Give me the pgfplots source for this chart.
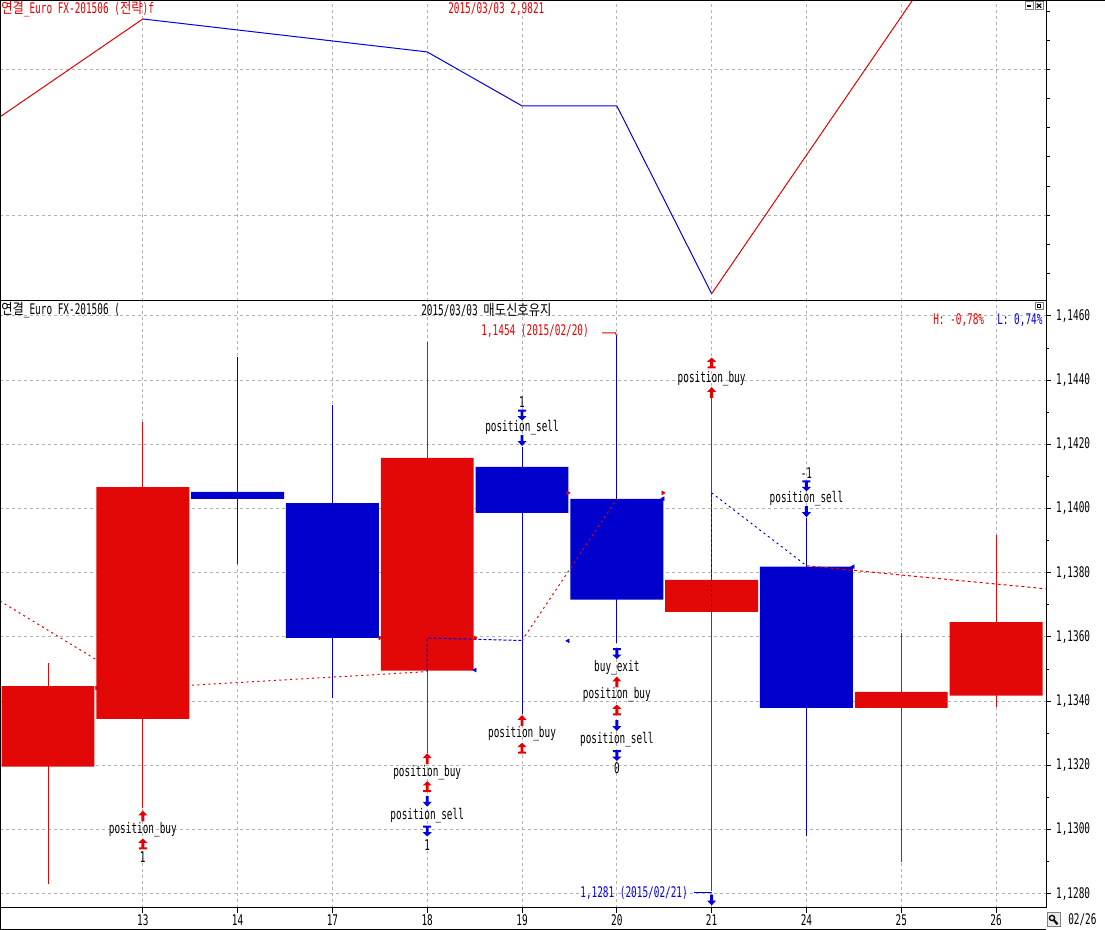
\documentclass[border=0pt]{standalone}
\usepackage{fontspec}
\setmainfont{DejaVu Sans Mono}[FakeStretch=0.64]
\newfontfamily\kr{Noto Sans CJK KR}[FakeStretch=0.84]
\usepackage{pgfplots}
\pgfplotsset{compat=1.18}
\definecolor{cred}{RGB}{226,8,8}
\definecolor{cblue}{RGB}{0,0,205}
\definecolor{lred}{RGB}{230,0,0}
\definecolor{lblue}{RGB}{0,0,225}
\definecolor{gridc}{RGB}{178,178,178}
\definecolor{btn}{RGB}{128,128,128}
\tikzset{
 uarr/.pic={\fill (0pt,4.1pt) -- (3.4pt,0.4pt) -- (1.1pt,0.4pt) -- (1.1pt,-4.1pt) -- (-1.1pt,-4.1pt) -- (-1.1pt,0.4pt) -- (-3.4pt,0.4pt) -- cycle;},
 uarrb/.pic={\fill (0pt,4.1pt) -- (3.4pt,0.9pt) -- (1.1pt,0.9pt) -- (1.1pt,-2.6pt) -- (3pt,-2.6pt) -- (3pt,-4.1pt) -- (-3pt,-4.1pt) -- (-3pt,-2.6pt) -- (-1.1pt,-2.6pt) -- (-1.1pt,0.9pt) -- (-3.4pt,0.9pt) -- cycle;},
}
% i, left, right, body low, body high, low, high, colour
\newcommand\candle[8]{%
 \addplot[#8, line width=0.75pt, forget plot] coordinates {(#1,#6) (#1,#7)};
 \addplot[fill=#8, draw=none, forget plot] coordinates {(#2,#4) (#3,#4) (#3,#5) (#2,#5) (#2,#4)};
}
\newcommand\UA[3]{\path (axis cs:#1,#2) pic[#3] {uarr};}
\newcommand\UAB[3]{\path (axis cs:#1,#2) pic[#3] {uarrb};}
\newcommand\DA[3]{\path (axis cs:#1,#2) pic[#3,rotate=180] {uarr};}
\newcommand\DAB[3]{\path (axis cs:#1,#2) pic[#3,rotate=180] {uarrb};}
\newcommand\TX[3]{\node[inner sep=0pt] at (axis cs:#1,#2) {#3};}
\begin{document}
\fontsize{11}{13}\selectfont
\begin{tikzpicture}[x=0.75pt,y=0.75pt,font=\fontsize{11}{13}\selectfont]
\fill[white] (0,0) rectangle (1105,930);
\path[use as bounding box] (0,0) rectangle (1105,930);

% ---------------- top panel ----------------
\begin{axis}[
 at={(0pt,471.75pt)}, anchor=south west,
 scale only axis, width=784.5pt, height=225.75pt,
 xmin=-0.5063, xmax=10.527, ymin=-2.955, ymax=7.399,
 axis line style={line width=0.75pt},
 xtick={1,...,10}, xticklabels={}, xmajorgrids=true,
 xtick style={draw=none},
 ytick={-2,...,7}, yticklabels={}, ytick pos=right,
 ytick style={black, line width=0.75pt},
 tick align=outside, major tick length=3pt,
 extra y ticks={0,5}, extra y tick labels={}, extra y tick style={grid=major},
 grid style={gridc, line width=0.75pt, dash pattern=on 2.25pt off 2.25pt},
]
\addplot[lred, line width=0.75pt] coordinates {(-0.5063,3.378) (1,6.746)};
\addplot[lblue, line width=0.75pt] coordinates {(1,6.746) (4,5.612) (5,3.756) (6,3.756) (7,-2.704)};
\addplot[lred, line width=0.75pt] coordinates {(7,-2.704) (10,11.59)};
\end{axis}

% ---------------- bottom panel ----------------
\begin{axis}[
 at={(0pt,16.5pt)}, anchor=south west,
 scale only axis, width=784.5pt, height=455.25pt,
 xmin=-0.5063, xmax=10.527, ymin=1.127557, ymax=1.146467,
 axis line style={line width=0.75pt},
 xtick={1,...,10}, xticklabels={13,14,17,18,19,20,21,24,25,26},
 xtick pos=bottom, ytick pos=right, yticklabel pos=right,
 ytick={1.128,1.130,1.132,1.134,1.136,1.138,1.140,1.142,1.144,1.146},
 minor ytick={1.129,1.131,1.133,1.135,1.137,1.139,1.141,1.143,1.145},
 tick align=outside, major tick length=3.75pt, minor tick length=2.25pt,
 tick style={black, line width=0.75pt},
 xmajorgrids=true, ymajorgrids=true,
 grid style={gridc, line width=0.75pt, dash pattern=on 2.25pt off 2.25pt},
 scaled y ticks=false,
 tick label style={font=\fontsize{11}{13}\selectfont},
 xticklabel style={yshift=2.6pt},
 /pgf/number format/fixed, /pgf/number format/fixed zerofill,
 /pgf/number format/precision=4, /pgf/number format/use comma,
 /pgf/number format/assume math mode=true,
]
\candle{0}{-0.49}{0.49}{1.13196}{1.13447}{1.12831}{1.13520}{cred}
\candle{1}{0.51}{1.49}{1.13345}{1.14067}{1.13067}{1.14270}{cred}
\candle{2}{1.51}{2.49}{1.14030}{1.14052}{1.13827}{1.14472}{cblue}
\candle{3}{2.51}{3.49}{1.13597}{1.14017}{1.13410}{1.14323}{cblue}
\candle{4}{3.51}{4.49}{1.13495}{1.14158}{1.13239}{1.14519}{cred}
\candle{5}{4.51}{5.49}{1.13987}{1.14130}{1.13360}{1.14193}{cblue}
\candle{6}{5.51}{6.49}{1.13716}{1.14030}{1.13581}{1.14540}{cblue}
\candle{7}{6.51}{7.49}{1.13678}{1.13778}{1.12810}{1.14345}{cred}
\candle{8}{7.51}{8.49}{1.13379}{1.13819}{1.12980}{1.13971}{cblue}
\candle{9}{8.51}{9.49}{1.13379}{1.13429}{1.12899}{1.13612}{cred}
\candle{10}{9.51}{10.49}{1.13417}{1.13646}{1.13381}{1.13918}{cred}
% trailing lines
\addplot[lred, line width=0.75pt, dash pattern=on 1.5pt off 2.6pt, forget plot] coordinates {(-0.5063,1.13712) (1,1.13441)};
\addplot[lred, line width=0.75pt, dash pattern=on 1.5pt off 2.6pt, forget plot] coordinates {(1,1.13441) (4,1.13492)};
\addplot[lblue, line width=0.75pt, dash pattern=on 2.25pt off 1.5pt, forget plot] coordinates {(4,1.13492) (4,1.13597) (5,1.13589)};
\addplot[lred, line width=0.75pt, dash pattern=on 1.5pt off 2.6pt, forget plot] coordinates {(5,1.13589) (6,1.14030)};
\addplot[lblue, line width=0.75pt, dash pattern=on 2.25pt off 1.5pt, forget plot] coordinates {(7,1.13678) (7,1.14049)};
\addplot[lblue, line width=0.75pt, dash pattern=on 1.5pt off 2.6pt, forget plot] coordinates {(7,1.14049) (8,1.13822)};
\addplot[lred, line width=0.75pt, dash pattern=on 2.25pt off 2.25pt, forget plot] coordinates {(8,1.13822) (9,1.13793) (10,1.13765) (10.527,1.13750)};
% small entry markers
\addplot[only marks, mark=triangle*, mark size=1.6pt, lred, mark options={rotate=-90}, forget plot] coordinates {(0.514,1.13441) (3.502,1.13597) (4.504,1.13597) (5.485,1.14049) (6.487,1.14049)};
\addplot[only marks, mark=triangle*, mark size=1.6pt, lblue, mark options={rotate=90}, forget plot] coordinates {(4.504,1.13497) (5.485,1.13588) (6.487,1.14031) (8.492,1.13819)};
% signal annotations
\UA{1}{1.130424}{lred}
\TX{1}{1.129988}{position\_buy}
\UAB{1}{1.129551}{lred}
\TX{1}{1.129146}{1}
\UA{4}{1.132209}{lred}
\TX{4}{1.131785}{position\_buy}
\UAB{4}{1.131336}{lred}
\DA{4}{1.130882}{lblue}
\TX{4}{1.130424}{position\_sell}
\DAB{4}{1.129956}{lblue}
\TX{4}{1.12952}{1}
\TX{5}{1.14333}{1}
\DAB{5}{1.142916}{lblue}
\TX{5}{1.142533}{position\_sell}
\DA{5}{1.142121}{lblue}
\UA{5}{1.133399}{lred}
\TX{5}{1.133000}{position\_buy}
\UAB{5}{1.132533}{lred}
\DAB{6}{1.135486}{lblue}
\TX{6}{1.135056}{buy\_exit}
\UA{6}{1.134598}{lred}
\TX{6}{1.134193}{position\_buy}
\UAB{6}{1.133726}{lred}
\DA{6}{1.133243}{lblue}
\TX{6}{1.132813}{position\_sell}
\DAB{6}{1.132308}{lblue}
\TX{6}{1.13191}{0}
\UAB{7}{1.144536}{lred}
\TX{7}{1.144059}{position\_buy}
\UA{7}{1.143617}{lred}
\TX{8}{1.141118}{-1}
\DAB{8}{1.14071}{lblue}
\TX{8}{1.140299}{position\_sell}
\DA{8}{1.139903}{lblue}
% high / low labels
\node[anchor=east, text=lred, inner sep=0pt] at (axis cs:5.707,1.145533) {1,1454 (2015/02/20)};
\draw[lred, line width=0.75pt] (axis cs:5.844,1.14547) -- (axis cs:5.985,1.14547) -- (axis cs:6,1.14538);
\node[anchor=east, text=lblue, inner sep=0pt] at (axis cs:6.751,1.128025) {1,1281 (2015/02/21)};
\draw[lblue, line width=0.75pt] (axis cs:6.814,1.128025) -- (axis cs:7,1.128025);
\DA{7}{1.127807}{lblue}
\end{axis}

% ---------------- frame, titles, buttons ----------------
\draw[black, line width=0.75pt] (0,929.6) -- (1105,929.6);
\draw[black, line width=0.75pt] (0.4,0) -- (0.4,930);
\draw[black, line width=0.75pt] (0,0.8) -- (1046,0.8);
\node[anchor=west, inner sep=0pt, text=lred] at (1,921) {{\kr 연결}\_Euro FX-201506 ({\kr 전략})f};
\node[anchor=west, inner sep=0pt, text=lred] at (448,921) {2015/03/03 2,9821};
\node[anchor=west, inner sep=0pt] at (1,620) {{\kr 연결}\_Euro FX-201506 (};
\node[anchor=west, inner sep=0pt] at (421,620) {2015/03/03 {\kr 매도신호유지}};
\node[anchor=west, inner sep=0pt, text=lred] at (933,610) {H: -0,78\%};
\node[anchor=west, inner sep=0pt, text=lblue] at (997,610) {L: 0,74\%};
\node[anchor=west, inner sep=0pt] at (1068,10.5) {02/26};
% buttons
\draw[btn, line width=0.75pt] (1025,920.5) rectangle (1033,928);
\draw[black, line width=1.2pt] (1026.8,924.2) -- (1031.2,924.2);
\draw[btn, line width=0.75pt] (1035,920.5) rectangle (1043,928);
\draw[black, line width=0.9pt] (1036.8,922.3) -- (1041.2,926.3) (1036.8,926.3) -- (1041.2,922.3);
\draw[btn, line width=0.75pt] (1035,620) rectangle (1043,627.5);
\draw[black, line width=0.75pt] (1037.3,622.3) rectangle (1040.7,625.2);
% magnifier icon
\draw[btn, fill=gray!15, line width=0.75pt] (1047,3) rectangle (1060,17);
\draw[black, line width=1pt] (1052,12) circle (2.6);
\draw[black, line width=1.6pt] (1054,9.8) -- (1057.5,5.7);
\end{tikzpicture}
\end{document}
